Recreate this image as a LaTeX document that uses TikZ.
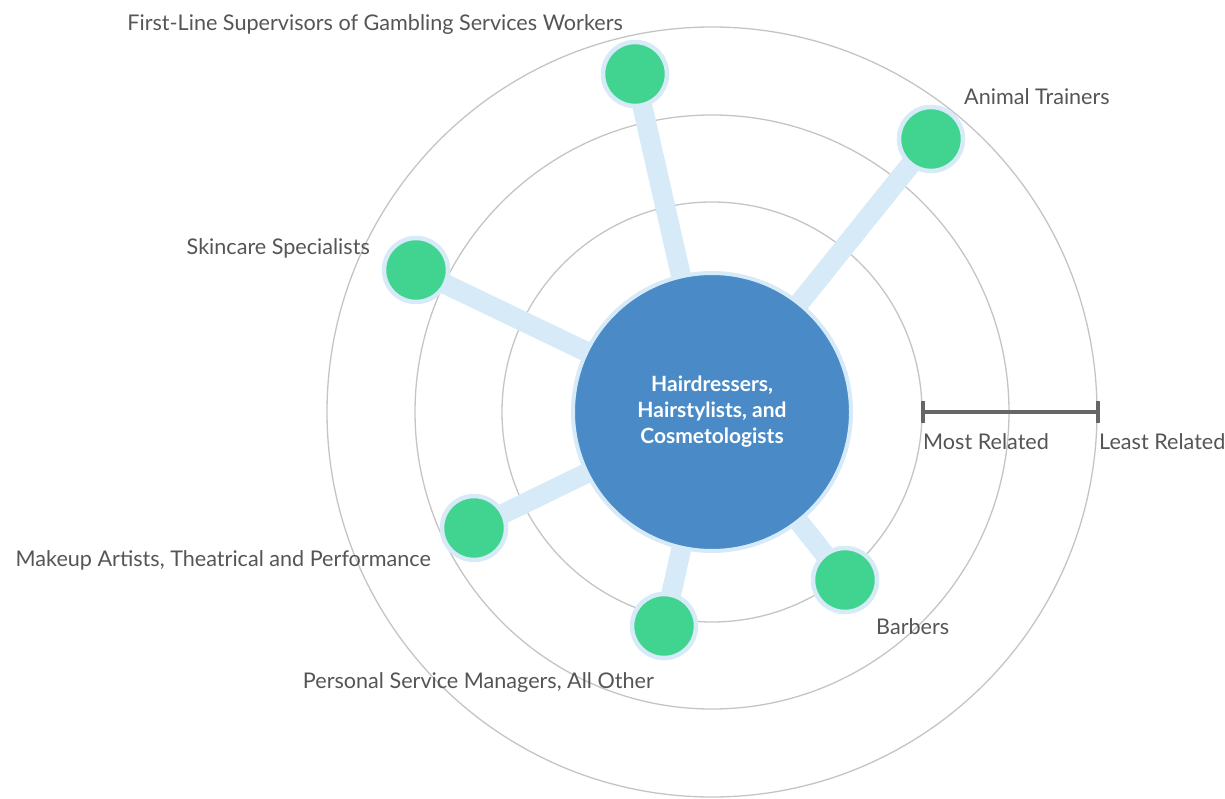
\documentclass[tikz,border=0pt]{standalone}
\usepackage{fontspec}
\setmainfont{Lato}
\usetikzlibrary{backgrounds}

\definecolor{hubblue}{HTML}{4A8BC7}
\definecolor{halo}{HTML}{D6EAF8}
\definecolor{jobgreen}{HTML}{41D490}
\definecolor{ringgray}{HTML}{C4C4C4}
\definecolor{txtgray}{HTML}{555555}
\definecolor{bargray}{HTML}{666666}

\begin{document}
\begin{tikzpicture}[x=1pt, y=-1pt,
    hub/.style={circle, fill=hubblue, draw=halo, line width=4pt, minimum size=278pt,
      text=white, font=\fontsize{21}{26}\selectfont\bfseries, align=center},
    job/.style={circle, fill=jobgreen, draw=halo, line width=4.5pt, minimum size=64pt, inner sep=0pt},
    tag/.style={text=txtgray, font=\fontsize{21.6}{24}\selectfont, inner sep=0pt},
    ring/.style={draw=ringgray, line width=1.3pt},
    link/.style={draw=halo, line width=20pt},
    bar/.style={draw=bargray, line width=4pt}
]
  \useasboundingbox (0,0) rectangle (1225,798);

  \node[hub] (hub) at (712,412) {Hairdressers,\\Hairstylists, and\\Cosmetologists};

  \node[job] (gambling) at (635,74)  {};
  \node[job] (animal)   at (931,139) {};
  \node[job] (skincare) at (416,270) {};
  \node[job] (makeup)   at (474,528) {};
  \node[job] (personal) at (664,626) {};
  \node[job] (barbers)  at (845,580) {};

  \node[tag, anchor=base east] (gamblingtxt) at (623,30)  {First-Line Supervisors of Gambling Services Workers};
  \node[tag, anchor=base west] (animaltxt)   at (964,104) {Animal Trainers};
  \node[tag, anchor=base east] (skincaretxt) at (370,254) {Skincare Specialists};
  \node[tag, anchor=base east] (makeuptxt)   at (431,566) {Makeup Artists, Theatrical and Performance};
  \node[tag, anchor=base east] (personaltxt) at (654,688) {Personal Service Managers, All Other};
  \node[tag, anchor=base west] (barberstxt)  at (876,634) {Barbers};

  % scale
  \coordinate (most)  at (923,412);
  \coordinate (least) at (1098,412);
  \draw[bar] (most) -- (least);
  \draw[bar] (most) ++(0,-11) -- ++(0,22);
  \draw[bar] (least) ++(0,-11) -- ++(0,22);
  \node[tag, anchor=base west] (mosttxt)  at (923,449)  {Most Related};
  \node[tag, anchor=base west] (leasttxt) at (1099,449) {Least Related};

  \begin{scope}[on background layer]
    \foreach \r in {210,297,385}
      \draw[ring] (hub.center) circle[radius=\r pt];
    \foreach \j in {gambling,animal,skincare,makeup,personal,barbers}
      \draw[link] (hub.center) -- (\j.center);
  \end{scope}
\end{tikzpicture}
\end{document}
